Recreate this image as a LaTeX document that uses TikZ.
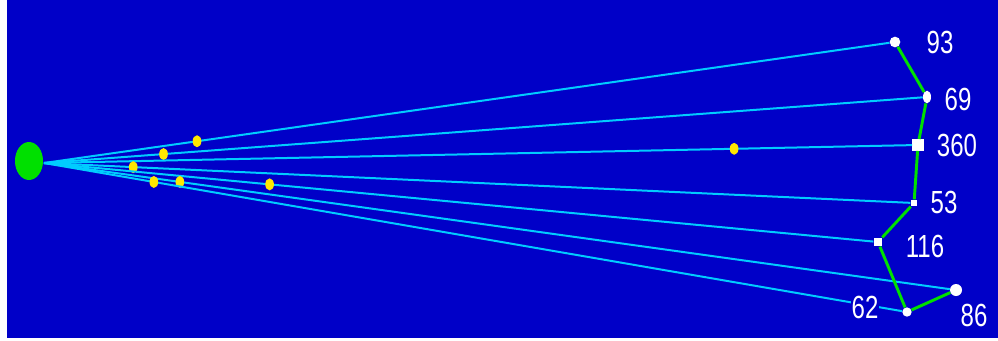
\documentclass[tikz,border=0pt]{standalone}
\usepackage{fontspec}
\setmainfont{Liberation Sans}
\usepackage{tikz}
\usetikzlibrary{shapes.geometric}

\definecolor{bgblue}{RGB}{0,0,200}
\definecolor{raycyan}{RGB}{0,204,255}
\definecolor{srcgreen}{RGB}{0,224,0}
\definecolor{dotyellow}{RGB}{255,232,0}

\begin{document}
\begin{tikzpicture}[x=0.75pt, y=-0.75pt,
  ray/.style={draw=raycyan, line width=1.5pt},
  rim/.style={draw=srcgreen, line width=2.2pt, line join=round},
  ydot/.style={ellipse, fill=dotyellow, inner sep=0pt, minimum width=6.5pt, minimum height=9pt},
  wdot/.style={circle, fill=white, inner sep=0pt, minimum size=#1},
  wsq/.style={rectangle, fill=white, inner sep=0pt, minimum size=#1},
  lbl/.style={text=white, font=\fontsize{24}{24}\selectfont, inner sep=1pt, xscale=0.75, transform shape}
]
\useasboundingbox (0,0) rectangle (998,340);
\fill[bgblue] (7,0) rectangle (998,338);

\node[ellipse, fill=srcgreen, inner sep=0pt, minimum width=21pt, minimum height=28.5pt] (src) at (29,161) {};
\coordinate (fan) at (44,163);

\node[wdot=8pt] (e93) at (895,42) {};
\node[ellipse, fill=white, inner sep=0pt, minimum width=6pt, minimum height=9.5pt] (e69) at (927,97) {};
\node[wsq=8.5pt] (e360) at (918,145) {};
\node[wsq=5pt] (e53) at (914,203) {};
\node[wsq=6.5pt] (e116) at (878,242) {};
\node[wdot=7pt] (e62) at (907,312) {};
\node[wdot=9pt] (e86) at (956,290) {};

\draw[ray] (fan) -- (e93) node[ydot, pos=0.181] (y93) {};
\draw[ray] (fan) -- (e69) node[ydot, pos=0.136] (y69) {};
\draw[ray] (fan) -- (e360) node[ydot, pos=0.795] (y360) {};
\draw[ray] (fan) -- (e53) node[ydot, pos=0.103] (y53) {};
\draw[ray] (fan) -- (e116) node[ydot, pos=0.272] (y116) {};
\draw[ray] (fan) -- (e86) node[ydot, pos=0.150] (y86) {};
\draw[ray] (fan) -- (e62) node[ydot, pos=0.128] (y62) {};

\draw[rim] (e93) -- (e69) -- (e360) -- (e53) -- (e116) -- (e62) -- (e86);

\node[lbl] (l93) at (940,42) {93};
\node[lbl] (l69) at (958,99) {69};
\node[lbl] (l360) at (957,145) {360};
\node[lbl] (l53) at (944,202) {53};
\node[lbl] (l116) at (925,246) {116};
\node[lbl, fill=bgblue] (l62) at (865,307) {62};
\node[lbl] (l86) at (974,315) {86};
\end{tikzpicture}
\end{document}
